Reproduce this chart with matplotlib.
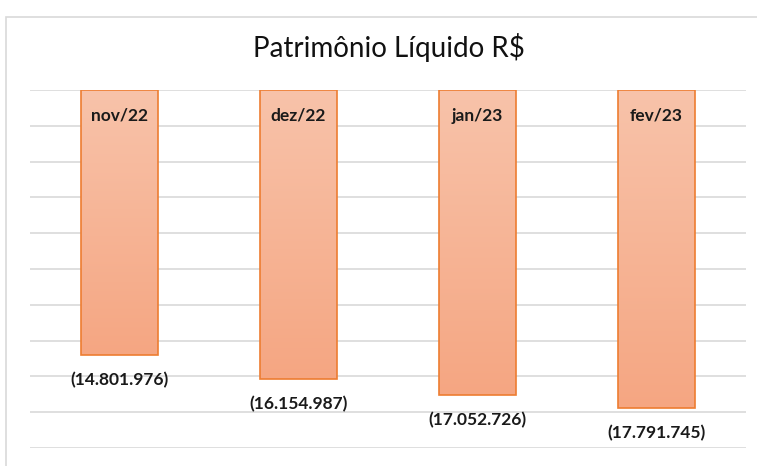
import numpy as np
import matplotlib.pyplot as plt
from matplotlib.patches import Rectangle

# Patrimônio líquido mensal (R$)
meses = ['nov/22', 'dez/22', 'jan/23', 'fev/23']
valores = [-14801976, -16154987, -17052726, -17791745]
rotulos = ['(14.801.976)', '(16.154.987)', '(17.052.726)', '(17.791.745)']

plt.rcParams['font.family'] = ['Lato', 'DejaVu Sans']

fig = plt.figure(figsize=(7.57, 4.66), dpi=100)
ax = fig.add_axes([30 / 757, 1 - 448 / 466, 716 / 757, 358 / 466])

# moldura do gráfico
fig.patches.append(Rectangle((6 / 757, -0.1), 1.0, 1 - 17 / 466 + 0.1,
                             transform=fig.transFigure, fill=False,
                             edgecolor='#d9d9d9', linewidth=1.2))

x = np.arange(len(meses))
bars = ax.bar(x, valores, width=0.43, color='none', edgecolor='#ED7D31',
              linewidth=1.2, zorder=3)

# gradiente laranja dentro das barras
grad = np.linspace(0, 1, 256).reshape(-1, 1)
cmap = plt.matplotlib.colors.LinearSegmentedColormap.from_list(
    'lar', ['#F8C3AA', '#F5A682'])
for b in bars:
    x0, w, h = b.get_x(), b.get_width(), b.get_height()
    im = ax.imshow(grad, cmap=cmap, aspect='auto',
                   extent=(x0, x0 + w, h, 0), zorder=2)
    im.set_clip_path(b)

for i, b in enumerate(bars):
    ax.text(b.get_x() + b.get_width() / 2, -1.45e6, meses[i], ha='center',
            va='center', fontsize=12.5, fontweight='bold', color='#1a1a1a', zorder=4)
    ax.text(b.get_x() + b.get_width() / 2, valores[i] - 1.4e6, rotulos[i],
            ha='center', va='center', fontsize=12.5, fontweight='bold',
            color='#1a1a1a', zorder=4)

ax.set_xlim(-0.5, len(meses) - 0.5)
ax.set_ylim(-20e6, 0)
ax.set_yticks(np.arange(-20e6, 1, 2e6))
ax.yaxis.grid(True, color='#d9d9d9', linewidth=1.2, zorder=0)
ax.tick_params(left=False, bottom=False, labelleft=False, labelbottom=False)
for s in ax.spines.values():
    s.set_visible(False)

fig.text(389 / 757, 1 - 48 / 466, 'Patrimônio Líquido R$', ha='center',
         va='center', fontsize=20, color='#111111')

fig.savefig('out.png', dpi=100)
